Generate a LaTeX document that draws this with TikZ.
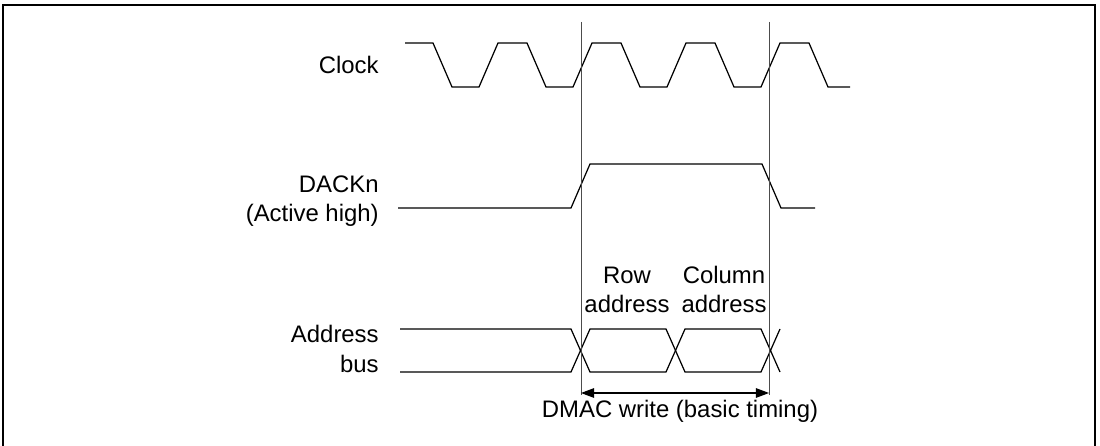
\documentclass[tikz,border=0pt]{standalone}
\usepackage{fontspec}
\setmainfont{Liberation Sans}
\usetikzlibrary{arrows.meta}

\begin{document}
\begin{tikzpicture}[x={(0.02cm,0cm)},y={(0cm,-0.02cm)},
    wave/.style={line width=0.7pt},
    marker/.style={line width=0.45pt,black!70},
    lbl/.style={font=\fontsize{13.6}{17}\selectfont,inner sep=0pt}]
  \useasboundingbox (0,0) rectangle (1100,446);
  \draw[line width=1.15pt] (3,450)--(3,5)--(1095,5)--(1095,450);
  % signals
  \draw[wave] (405,43) foreach \t in {433,527,621,715} {--(\t,43)--(\t+19,87)--(\t+46,87)--(\t+65,43)}
    --(809,43)--(828,87)--(850,87);
  \draw[wave] (398,208)--(571,208)--(590,164)--(762,164)--(781,208)--(815,208);
  \draw[wave] (400,329)--(571,329)--(590,372)--(666,372)--(685,329)--(761,329)--(780,372);
  \draw[wave] (400,372)--(571,372)--(590,329)--(666,329)--(685,372)--(761,372)--(780,329);
  % timing markers
  \coordinate (m1top) at (581,22);
  \coordinate (m1bot) at (581,395);
  \coordinate (m2top) at (769,22);
  \coordinate (m2bot) at (769,395);
  \draw[marker] (m1top)--(m1bot);
  \draw[marker] (m2top)--(m2bot);
  \coordinate (a1) at (581,393);
  \coordinate (a2) at (769,393);
  \draw[line width=0.6pt,{Triangle[length=7.5pt,width=5.5pt]}-{Triangle[length=7.5pt,width=5.5pt]}] (a1)--(a2);
  % labels (base = last line)
  \node[lbl,anchor=base east] (clk) at (379,74) {Clock};
  \node[lbl,anchor=base east,align=right] (dack) at (379,222) {DACKn\\(Active high)};
  \node[lbl,anchor=base east,align=right] (bus) at (379,372) {Address\\bus};
  \node[lbl,anchor=base,align=center] (row) at (627,313) {Row\\address};
  \node[lbl,anchor=base,align=center] (col) at (724,313) {Column\\address};
  \node[lbl,anchor=base] (dmac) at (680,418) {DMAC write (basic timing)};
\end{tikzpicture}
\end{document}
